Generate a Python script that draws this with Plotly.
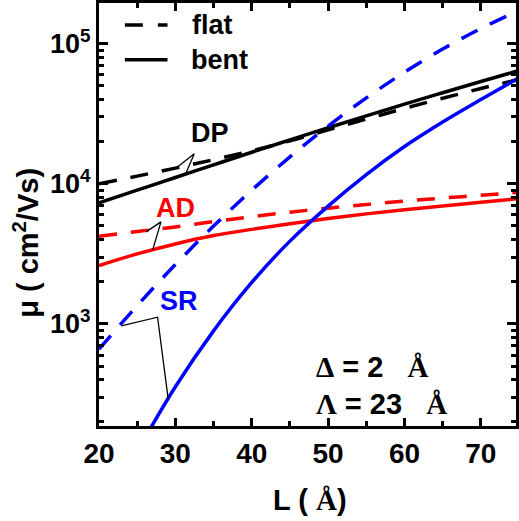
import math
import plotly.graph_objects as go

# ---------------- data ----------------
L = [20, 25, 30, 35, 40, 45, 50, 55, 60, 65, 70, 75]
dp_flat = [1.0e4, 11350, 12942, 14859, 17219, 20230, 24266, 28973, 34514, 40738, 47863, 55590]
dp_bent = [7328, 9016, 11092, 13646, 16788, 20559, 25119, 30549, 36983, 44668, 53703, 64269]
ad_flat = [4.22e3, 4.57e3, 4.92e3, 5.37e3, 5.82e3, 6.27e3, 6.70e3, 7.11e3, 7.52e3, 7.91e3, 8.28e3, 8.71e3]
ad_bent = [2.61e3, 3.16e3, 3.72e3, 4.27e3, 4.73e3, 5.19e3, 5.65e3, 6.10e3, 6.53e3, 6.95e3, 7.38e3, 7.85e3]
sr_flat = [661, 1352, 2655, 4989, 8995, 15560, 25823, 41020, 62517, 91411, 128233, 172187]
sr_bent = [None, 123, 356, 893, 1977, 3899, 6934, 11641, 18450, 27606, 39902, 57016]

x_ticks = [20, 30, 40, 50, 60, 70]
x_minor = [25, 35, 45, 55, 65]
y_ticks = [1e3, 1e4, 1e5]
y_ticktext = ["10<sup>3</sup>", "10<sup>4</sup>", "10<sup>5</sup>"]
y_minor = [v * m for v in [100, 1000, 10000, 100000] for m in range(2, 10)]

# curve labels: text, colour, label position, pointer apex, pointer ends (L, mu)
labels = [
    ("DP", "black", (34.5, 2.29e4), (32.47, 1.641e4), (30.27, 1.318e4), (31.37, 1.183e4)),
    ("AD", "red", (29.97, 6.70e3), (28.11, 5.35e3), (26.16, 4.54e3), (27.02, 3.365e3)),
    ("SR", "blue", (30.49, 1459), (27.67, 1117), (22.91, 968), (29.06, 291)),
]

FONT = "Liberation Sans, Arial, sans-serif"
SERIF = "Liberation Serif, Times New Roman, serif"
DASH = "18px,14px"
LW = 3.5
NB = "\u00a0"

fig = go.Figure()
series = [
    (dp_flat, "black", DASH), (dp_bent, "black", "solid"),
    (ad_flat, "red", DASH), (ad_bent, "red", "solid"),
    (sr_flat, "blue", DASH), (sr_bent, "blue", "solid"),
]
for ys, col, dash in series:
    fig.add_trace(go.Scatter(x=L, y=ys, mode="lines", showlegend=False, hoverinfo="skip",
                             line=dict(color=col, width=LW, dash=dash, shape="spline")))

lg = math.log10
shapes = []
annotations = []
for txt, col, lab, apex, e1, e2 in labels:
    annotations.append(dict(x=lab[0], y=lg(lab[1]), xref="x", yref="y", text="<b>%s</b>" % txt,
                            showarrow=False, font=dict(family=FONT, size=27, color=col)))
    fig.add_trace(go.Scatter(x=[e1[0], apex[0], e2[0]], y=[e1[1], apex[1], e2[1]], mode="lines",
                             showlegend=False, hoverinfo="skip",
                             line=dict(color="black", width=1.3)))

# legend key
shapes.append(dict(type="line", xref="paper", yref="paper", x0=0.062, x1=0.1643, y0=0.948, y1=0.948,
                   line=dict(color="black", width=LW, dash="18px,15px")))
shapes.append(dict(type="line", xref="paper", yref="paper", x0=0.062, x1=0.1643, y0=0.8656, y1=0.8656,
                   line=dict(color="black", width=LW)))
annotations.append(dict(x=0.219, y=0.948, xref="paper", yref="paper", xanchor="left", yanchor="middle",
                        text="<b>flat</b>", showarrow=False, font=dict(family=FONT, size=27, color="black")))
annotations.append(dict(x=0.217, y=0.8656, xref="paper", yref="paper", xanchor="left", yanchor="middle",
                        text="<b>bent</b>", showarrow=False, font=dict(family=FONT, size=27, color="black")))

# parameters text
annotations.append(dict(x=48.2, y=lg(494), xref="x", yref="y", xanchor="left", yanchor="middle", showarrow=False,
                        text="<span style=\"font-family:%s\"><b>Δ</b></span><b> = 2%s</b><span style=\"font-family:%s\"><b>Å</b></span>" % (SERIF, NB * 3, SERIF),
                        font=dict(family=FONT, size=29, color="black")))
annotations.append(dict(x=48.2, y=lg(270), xref="x", yref="y", xanchor="left", yanchor="middle", showarrow=False,
                        text="<span style=\"font-family:%s\"><b>Λ</b></span><b> = 23%s</b><span style=\"font-family:%s\"><b>Å</b></span>" % (SERIF, NB * 3, SERIF),
                        font=dict(family=FONT, size=29, color="black")))

# axis titles
annotations.append(dict(x=0.506, y=-0.1745, xref="paper", yref="paper", xanchor="center", yanchor="middle",
                        showarrow=False,
                        text="<b>L ( </b><span style=\"font-family:%s\"><b>Å</b></span><b>)</b>" % SERIF,
                        font=dict(family=FONT, size=29, color="black")))
annotations.append(dict(x=-0.174, y=0.434, xref="paper", yref="paper", xanchor="center", yanchor="middle",
                        showarrow=False, textangle=-90,
                        text="<b>μ ( cm<sup>2</sup>/Vs)</b>",
                        font=dict(family=FONT, size=29, color="black")))

fig.update_layout(
    width=519, height=521,
    margin=dict(l=99, r=0, t=2, b=95),
    paper_bgcolor="white", plot_bgcolor="white",
    shapes=shapes, annotations=annotations,
    showlegend=False,
)
fig.update_xaxes(range=[20, 74.6], showgrid=False, zeroline=False,
                 showline=True, linewidth=3, linecolor="black", mirror="allticks",
                 ticks="inside", ticklen=8, tickwidth=3, tickcolor="black",
                 tickvals=x_ticks, tickfont=dict(family=FONT, size=28, color="black", weight="bold"),
                 minor=dict(tickvals=x_minor, ticks="inside", ticklen=5, tickwidth=2.5, tickcolor="black"))
fig.update_yaxes(type="log", range=[math.log10(187), math.log10(1.95e5)], showgrid=False, zeroline=False,
                 showline=True, linewidth=3, linecolor="black", mirror="allticks",
                 ticks="inside", ticklen=9, tickwidth=3, tickcolor="black",
                 tickvals=y_ticks, ticktext=y_ticktext,
                 tickfont=dict(family=FONT, size=27, color="black", weight="bold"),
                 minor=dict(tickvals=y_minor, ticks="inside", ticklen=5, tickwidth=2.5, tickcolor="black"))

fig.write_html("out.html", config={"displayModeBar": False},
               post_script="document.body.style.margin='0';document.body.style.overflow='hidden';")
